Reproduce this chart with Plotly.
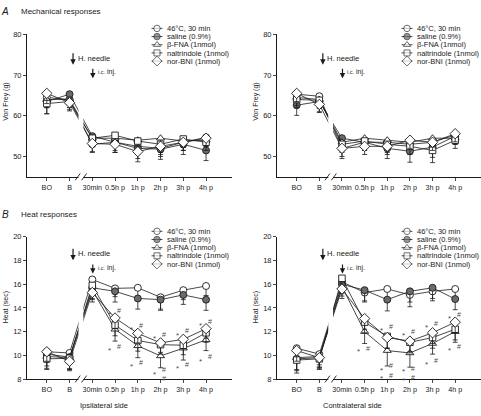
import plotly.graph_objects as go

W, H = 481, 416

categories = ["BO", "B", "30min", "0.5h p", "1h p", "2h p", "3h p", "4h p"]
series_names = ["46°C, 30 min", "saline (0.9%)", "β-FNA (1nmol)", "naltrindole (1nmol)", "nor-BNI (1nmol)"]

# ---- A: Mechanical responses, ipsilateral (Von Frey, g) ----
mech_ipsi_hot = [64.5, 64.0, 53.0, 53.5, 52.5, 52.0, 53.5, 54.7]
mech_ipsi_saline = [63.5, 65.3, 55.0, 53.5, 52.0, 51.8, 53.0, 51.5]
mech_ipsi_bfna = [64.0, 64.0, 54.5, 54.5, 54.0, 54.5, 53.8, 54.0]
mech_ipsi_nalt = [63.0, 63.5, 54.5, 55.2, 53.8, 53.0, 54.3, 53.5]
mech_ipsi_nbni = [65.5, 63.2, 53.2, 53.0, 51.2, 52.5, 53.5, 54.5]
mech_ipsi_hot_err = [2.5, 2.0, 2.0, 2.0, 2.0, 2.0, 2.0, 1.5]
mech_ipsi_saline_err = [3.0, 2.5, 2.5, 2.5, 2.5, 2.5, 2.5, 2.5]
mech_ipsi_bfna_err = [2.0, 2.0, 1.5, 1.5, 1.5, 1.5, 1.5, 1.5]
mech_ipsi_nalt_err = [2.5, 2.0, 2.0, 1.5, 2.0, 2.0, 2.0, 2.0]
mech_ipsi_nbni_err = [2.5, 2.0, 2.0, 2.0, 2.5, 2.0, 2.0, 2.0]

# ---- A: Mechanical responses, contralateral ----
mech_contra_hot = [65.3, 64.8, 52.0, 53.5, 53.5, 53.0, 53.5, 55.3]
mech_contra_saline = [62.6, 63.5, 54.5, 53.5, 52.0, 51.3, 52.3, 55.0]
mech_contra_bfna = [64.5, 64.0, 53.5, 54.5, 54.0, 53.5, 54.5, 54.5]
mech_contra_nalt = [64.0, 63.8, 53.0, 53.8, 53.0, 52.5, 51.5, 54.0]
mech_contra_nbni = [65.5, 62.8, 52.0, 52.5, 52.5, 54.0, 53.5, 55.6]
mech_contra_hot_err = [2.0, 2.0, 2.0, 2.0, 2.0, 2.0, 2.0, 2.0]
mech_contra_saline_err = [2.5, 2.5, 2.5, 2.0, 2.5, 2.7, 2.5, 2.0]
mech_contra_bfna_err = [2.0, 2.0, 2.0, 1.5, 1.5, 1.5, 1.5, 1.5]
mech_contra_nalt_err = [2.0, 2.0, 2.0, 2.0, 2.0, 2.0, 3.0, 2.0]
mech_contra_nbni_err = [2.0, 2.0, 2.5, 2.0, 2.0, 2.0, 2.0, 2.0]

# ---- B: Heat responses, ipsilateral (sec) ----
heat_ipsi_hot = [10.3, 10.2, 16.4, 15.65, 15.7, 14.9, 15.5, 15.85]
heat_ipsi_saline = [10.1, 9.85, 15.7, 15.4, 14.8, 14.7, 15.1, 14.7]
heat_ipsi_bfna = [9.9, 9.8, 15.5, 12.2, 10.8, 9.95, 10.6, 11.3]
heat_ipsi_nalt = [9.7, 9.75, 15.9, 12.55, 11.25, 10.9, 10.85, 11.9]
heat_ipsi_nbni = [10.3, 9.5, 15.3, 13.15, 11.85, 11.05, 11.35, 12.25]
heat_ipsi_hot_err = [0.9, 0.9, 0.8, 0.7, 0.8, 1.0, 0.8, 0.8]
heat_ipsi_saline_err = [1.0, 1.0, 0.9, 0.9, 0.9, 0.9, 0.8, 0.9]
heat_ipsi_bfna_err = [1.0, 1.0, 0.8, 1.0, 1.0, 1.0, 1.0, 0.9]
heat_ipsi_nalt_err = [0.9, 0.9, 0.8, 0.9, 0.9, 0.8, 0.8, 0.8]
heat_ipsi_nbni_err = [0.8, 0.8, 0.8, 0.9, 0.8, 0.8, 0.8, 0.8]

# ---- B: Heat responses, contralateral ----
heat_contra_hot = [10.6, 10.1, 16.2, 15.3, 15.6, 15.1, 15.4, 15.6]
heat_contra_saline = [9.7, 9.8, 16.0, 15.5, 14.7, 15.4, 15.7, 14.75]
heat_contra_bfna = [9.8, 9.9, 15.8, 12.0, 10.4, 10.2, 11.0, 12.0]
heat_contra_nalt = [9.6, 9.7, 16.5, 12.8, 11.6, 11.1, 11.5, 12.2]
heat_contra_nbni = [10.4, 9.8, 15.6, 13.1, 11.5, 11.2, 11.9, 12.8]
heat_contra_hot_err = [1.0, 0.9, 0.8, 0.8, 0.8, 1.0, 0.8, 0.8]
heat_contra_saline_err = [1.0, 0.9, 0.8, 0.9, 0.95, 0.9, 0.9, 0.9]
heat_contra_bfna_err = [1.0, 0.9, 0.8, 1.0, 1.3, 1.2, 0.9, 0.9]
heat_contra_nalt_err = [1.1, 0.9, 0.8, 0.9, 1.0, 0.9, 0.9, 0.9]
heat_contra_nbni_err = [0.9, 0.8, 0.8, 0.9, 0.9, 0.9, 0.9, 0.9]

# significance marks (* and #) : category -> values
sig_ipsi_star = {"0.5h p": [13.65, 10.6], "1h p": [12.33, 9.2], "2h p": [11.58, 8.55, 7.9],
                 "3h p": [11.86, 9.04], "4h p": [12.69, 9.65]}
sig_ipsi_hash = {"0.5h p": [13.8, 10.75], "1h p": [12.55, 9.37], "2h p": [11.78, 8.77, 8.05],
                 "3h p": [12.08, 9.2], "4h p": [12.83, 9.87]}
sig_contra_star = {"0.5h p": [10.45], "1h p": [12.27, 8.88, 8.2], "2h p": [11.8, 8.77, 8.05],
                   "3h p": [12.5, 9.4], "4h p": [13.27, 10.55]}
sig_contra_hash = {"0.5h p": [10.6], "1h p": [12.47, 9.1, 8.33], "2h p": [12.0, 8.9, 8.15],
                   "3h p": [12.7, 9.6], "4h p": [13.46, 10.72]}

# ---------------- styles / layout helpers ----------------
FONT = "Liberation Sans, Arial, Helvetica, sans-serif"
INK = "#1a1a1a"
MARK = "#4a4a4a"
symbols = ["circle", "circle", "triangle-up", "square", "diamond"]
fills = ["white", "#6b6b6b", "white", "white", "white"]
msizes = [7, 7, 7, 6.5, 8]

def pxx(p):
    return p / W

def pxy(p):
    return 1 - p / H

XR = [-0.87, 8.14]
panels = [
    dict(xa="x", ya="y", L=27, R=232, T=31, B=176.7, yr=[45, 80], yt=[50, 60, 70, 80],
         means=[mech_ipsi_hot, mech_ipsi_saline, mech_ipsi_bfna, mech_ipsi_nalt, mech_ipsi_nbni],
         errs=[mech_ipsi_hot_err, mech_ipsi_saline_err, mech_ipsi_bfna_err, mech_ipsi_nalt_err, mech_ipsi_nbni_err]),
    dict(xa="x2", ya="y2", L=277, R=481, T=31, B=176.7, yr=[45, 80], yt=[50, 60, 70, 80],
         means=[mech_contra_hot, mech_contra_saline, mech_contra_bfna, mech_contra_nalt, mech_contra_nbni],
         errs=[mech_contra_hot_err, mech_contra_saline_err, mech_contra_bfna_err, mech_contra_nalt_err, mech_contra_nbni_err]),
    dict(xa="x3", ya="y3", L=27, R=232, T=238, B=383.3, yr=[8, 20], yt=[8, 10, 12, 14, 16, 18, 20],
         means=[heat_ipsi_hot, heat_ipsi_saline, heat_ipsi_bfna, heat_ipsi_nalt, heat_ipsi_nbni],
         errs=[heat_ipsi_hot_err, heat_ipsi_saline_err, heat_ipsi_bfna_err, heat_ipsi_nalt_err, heat_ipsi_nbni_err]),
    dict(xa="x4", ya="y4", L=277, R=481, T=238, B=383.3, yr=[8, 20], yt=[8, 10, 12, 14, 16, 18, 20],
         means=[heat_contra_hot, heat_contra_saline, heat_contra_bfna, heat_contra_nalt, heat_contra_nbni],
         errs=[heat_contra_hot_err, heat_contra_saline_err, heat_contra_bfna_err, heat_contra_nalt_err, heat_contra_nbni_err]),
]

def cat_px(p, idx):
    sp = (p["R"] - p["L"]) / (XR[1] - XR[0])
    return p["L"] + (idx - XR[0]) * sp

fig = go.Figure()
layout = dict(width=W, height=H, margin=dict(l=0, r=0, t=0, b=0),
              paper_bgcolor="white", plot_bgcolor="white", showlegend=False,
              font=dict(family=FONT, size=8, color=INK))
shapes = []
annotations = []

for k, p in enumerate(panels):
    n = "" if k == 0 else str(k + 1)
    for i in range(5):
        fig.add_trace(go.Scatter(
            x=categories, y=p["means"][i], mode="lines+markers",
            xaxis=p["xa"], yaxis=p["ya"], cliponaxis=False,
            line=dict(color=INK, width=0.8),
            marker=dict(symbol=symbols[i], size=msizes[i], color=fills[i],
                        line=dict(color=INK, width=0.9)),
            error_y=dict(type="data", symmetric=False, array=[0] * len(categories),
                         arrayminus=p["errs"][i], color=INK, thickness=0.8, width=2.5),
            hoverinfo="skip"))
    layout["xaxis" + n] = dict(domain=[pxx(p["L"]), pxx(p["R"])], anchor=p["ya"],
                               type="category", range=XR, categoryorder="array",
                               categoryarray=categories, tickmode="array",
                               tickvals=categories, ticktext=categories, tickangle=0,
                               showline=True, linecolor=INK,
                               linewidth=1, ticks="outside", ticklen=3, tickwidth=0.8,
                               tickcolor=INK, showgrid=False, zeroline=False,
                               tickfont=dict(size=7.2, family=FONT, color=INK))
    layout["yaxis" + n] = dict(domain=[pxy(p["B"]), pxy(p["T"])], anchor=p["xa"],
                               range=p["yr"], tickvals=p["yt"], showline=True,
                               linecolor=INK, linewidth=1, ticks="outside", ticklen=3,
                               tickwidth=0.8, tickcolor=INK, showgrid=False, zeroline=False,
                               tickfont=dict(size=7.5, family=FONT, color=INK))

    # axis break between B and 30min
    cx = cat_px(p, 1.5)
    shapes.append(dict(type="rect", xref="paper", yref="paper", layer="above",
                       x0=pxx(cx - 2.4), x1=pxx(cx + 2.4), y0=pxy(p["B"] + 2), y1=pxy(p["T"] + 8),
                       fillcolor="white", line=dict(width=0)))
    for s in (cx - 3.2, cx + 3.2):
        shapes.append(dict(type="line", xref="paper", yref="paper", layer="above",
                           x0=pxx(s - 2.5), y0=pxy(p["B"] + 3.5), x1=pxx(s + 2.5), y1=pxy(p["B"] - 3.5),
                           line=dict(color=INK, width=0.9)))

    # arrows: H. needle and i.c. inj.
    top = p["T"]
    if k < 2:
        h_tip, h_tail, h_txt, i_tip, i_tail, i_txt = top + 31, top + 18, top + 24.5, top + 45, top + 34, top + 39
    else:
        h_tip, h_tail, h_txt, i_tip, i_tail, i_txt = top + 24, top + 11, top + 17, top + 37.5, top + 27, top + 32
    hx = cat_px(p, 1) + 3.5
    ix = cat_px(p, 2) + 0.5
    annotations.append(dict(xref="paper", yref="paper", x=pxx(hx), y=pxy(h_tip), text="",
                            showarrow=True, ax=0, ay=-(h_tip - h_tail), arrowhead=2,
                            arrowsize=0.9, arrowwidth=1.2, arrowcolor=INK))
    annotations.append(dict(xref="paper", yref="paper", x=pxx(hx + 2.5), y=pxy(h_txt),
                            text="H. needle", showarrow=False, xanchor="left", yanchor="middle",
                            font=dict(size=7.5, family=FONT, color=INK)))
    annotations.append(dict(xref="paper", yref="paper", x=pxx(ix), y=pxy(i_tip), text="",
                            showarrow=True, ax=0, ay=-(i_tip - i_tail), arrowhead=2,
                            arrowsize=0.9, arrowwidth=1.2, arrowcolor=INK))
    annotations.append(dict(xref="paper", yref="paper", x=pxx(ix + 3), y=pxy(i_txt),
                            text='<span style="font-size:5.5px">i.c.</span> inj.', showarrow=False,
                            xanchor="left", yanchor="middle",
                            font=dict(size=7, family=FONT, color=INK)))

    # custom legend (small axes)
    lx = p["L"] + 124
    lt = p["T"] - 10.2 if k < 2 else p["T"] - 9.8
    ln = str(k + 5)
    layout["xaxis" + ln] = dict(domain=[pxx(lx), pxx(lx + 12)], anchor="y" + ln, range=[-1.1, 1.1],
                                visible=False, fixedrange=True)
    layout["yaxis" + ln] = dict(domain=[pxy(lt + 41.7), pxy(lt)], anchor="x" + ln,
                                type="category", categoryorder="array", categoryarray=series_names,
                                tickmode="array", tickvals=series_names, ticktext=series_names,
                                range=[4.5, -0.5], side="right", showline=False, ticks="",
                                showgrid=False, zeroline=False, ticklabelstandoff=3,
                                tickfont=dict(size=7.5, family=FONT, color=INK))
    for i in range(5):
        fig.add_trace(go.Scatter(x=[-1, 1], y=[series_names[i]] * 2, mode="lines",
                                 xaxis="x" + ln, yaxis="y" + ln, cliponaxis=False,
                                 line=dict(color=INK, width=0.8), hoverinfo="skip"))
    fig.add_trace(go.Scatter(x=[0] * 5, y=series_names, mode="markers", xaxis="x" + ln,
                             yaxis="y" + ln, cliponaxis=False,
                             marker=dict(symbol=symbols, size=[s - 0.5 for s in msizes], color=fills,
                                         line=dict(color=INK, width=0.9)), hoverinfo="skip"))

# significance marks on heat panels
for (star, hsh, xa, ya) in ((sig_ipsi_star, sig_ipsi_hash, "x3", "y3"),
                           (sig_contra_star, sig_contra_hash, "x4", "y4")):
    for cat, vals in star.items():
        for v in vals:
            annotations.append(dict(xref=xa, yref=ya, x=cat, y=v, text="*", showarrow=False,
                                    xshift=-6, yshift=-2, font=dict(size=8, family=FONT, color=MARK)))
    for cat, vals in hsh.items():
        for v in vals:
            annotations.append(dict(xref=xa, yref=ya, x=cat, y=v, text="#", showarrow=False,
                                    xshift=3.5, font=dict(size=7, family=FONT, color=MARK)))

# titles and axis labels
texts = [
    ("<i>A</i>", 5, 8, 10, "center", 0),
    ("Mechanical responses", 19, 8, 8, "left", 0),
    ("<i>B</i>", 5, 215, 10, "center", 0),
    ("Heat responses", 19, 215, 8, "left", 0),
    ("Von Frey (g)", 6, 100, 7, "center", -90),
    ("Von Frey (g)", 256, 100, 7, "center", -90),
    ("Heat (sec)", 6, 310, 7, "center", -90),
    ("Heat (sec)", 256, 310, 7, "center", -90),
    ("Ipsilateral side", 104, 410, 7.5, "center", 0),
    ("Contralateral side", 352, 410, 7.5, "center", 0),
]
for t, x, y, s, anc, ang in texts:
    annotations.append(dict(xref="paper", yref="paper", x=pxx(x), y=pxy(y), text=t,
                            showarrow=False, xanchor=anc, yanchor="middle", textangle=ang,
                            font=dict(size=s, family=FONT, color=INK)))

layout["shapes"] = shapes
layout["annotations"] = annotations
fig.update_layout(**layout)
fig.write_html("out.html", config={"displayModeBar": False, "staticPlot": True},
               post_script="document.body.style.margin='0px';document.body.style.overflow='hidden';")
